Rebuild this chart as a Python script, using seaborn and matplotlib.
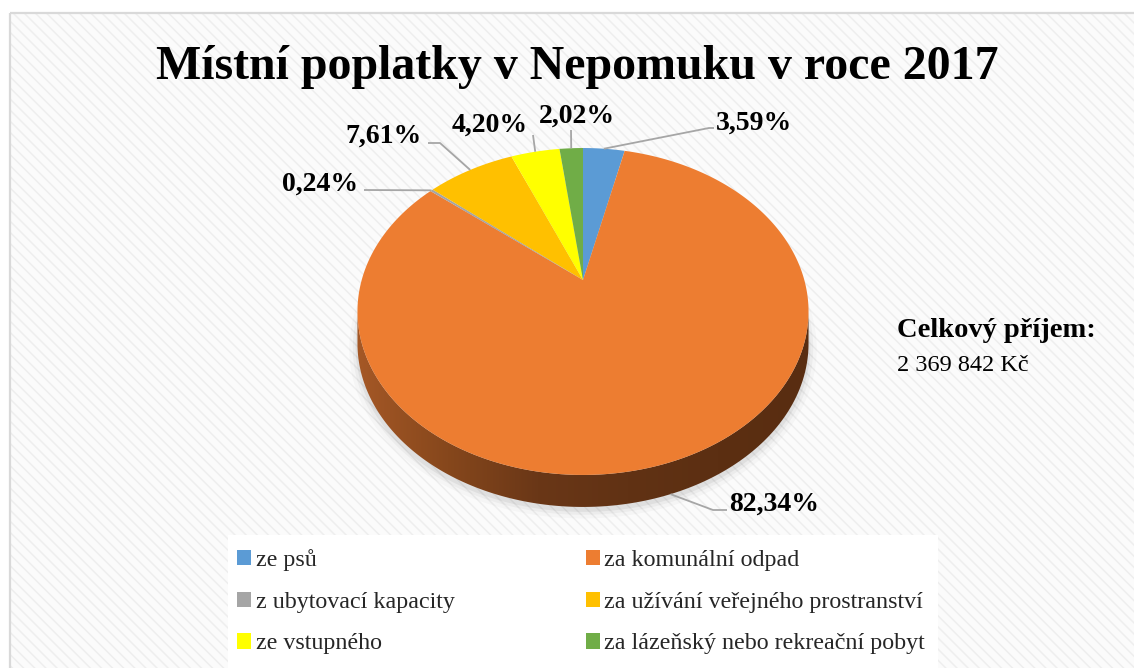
import numpy as np
import matplotlib
matplotlib.use("Agg")
import matplotlib.pyplot as plt
import matplotlib.transforms as mtransforms
from matplotlib.path import Path
from matplotlib.patches import Rectangle, Polygon
from matplotlib.colors import LinearSegmentedColormap
import seaborn as sns

# ---------------- data ----------------
categories = ["ze psů", "za komunální odpad", "z ubytovací kapacity",
              "za užívání veřejného prostranství", "ze vstupného",
              "za lázeňský nebo rekreační pobyt"]
shares = [3.59, 82.34, 0.24, 7.61, 4.20, 2.02]
slice_colors = ["#5B9BD5", "#ED7D31", "#A5A5A5", "#FFC000", "#FFFF00", "#70AD47"]
title_text = "Místní poplatky v Nepomuku v roce 2017"
total_caption = "Celkový příjem:"
total_value = "2 369 842 Kč"

# ---------------- style ----------------
sns.set_theme(style="white")
SERIF = ["Liberation Serif", "DejaVu Serif"]
plt.rcParams["font.family"] = SERIF
plt.rcParams["hatch.linewidth"] = 1.1
palette = sns.color_palette(slice_colors)

W, H = 1134, 668
fig = plt.figure(figsize=(W / 100, H / 100), dpi=100)
ax = fig.add_axes([0, 0, 1, 1])


class Persp(mtransforms.Transform):
    """Perspective (homography) view of a tilted unit disk, output in pixels."""
    input_dims = 2
    output_dims = 2
    is_separable = False
    has_inverse = False

    def __init__(self, cx, cy, a, b, k, dy=0.0):
        super().__init__()
        self.cx, self.cy, self.a, self.b, self.k, self.dy = cx, cy, a, b, k, dy

    def transform_non_affine(self, values):
        v = np.asarray(values, float).reshape(-1, 2)
        w = 1.0 + self.k * v[:, 1]
        return np.column_stack([self.cx + self.a * v[:, 0] / w,
                                self.cy - self.b * v[:, 1] / w + self.dy])

    def transform_path_non_affine(self, path):
        pts = []
        tt = np.linspace(0, 1, 40)
        for seg, code in path.iter_bezier(simplify=False):
            pts.append(seg(tt))
        pts = np.concatenate(pts)
        return Path(self.transform_non_affine(pts))


CX, CY, A, B, K, DEPTH = 583.0, 280.0, 221.3, 157.4, 0.1926, 32.0
top = Persp(CX, CY, A, B, K)
bottom = Persp(CX, CY, A, B, K, dy=DEPTH)

# ---------------- pie (top face) ----------------
wedges, _ = ax.pie(shares, colors=palette, startangle=90, counterclock=False,
                   radius=1.0, center=(0, 0), wedgeprops=dict(linewidth=0))
for w in wedges:
    w.set_transform(top + ax.transData)
    w.set_zorder(4)

ax.set_xlim(0, W)
ax.set_ylim(H, 0)
ax.set_aspect("auto")
ax.axis("off")

# ---------------- background ----------------
ax.add_patch(Rectangle((0, 0), W, H, facecolor="white", lw=0, zorder=0))
ax.add_patch(Rectangle((10, 13), W + 40, H + 40, facecolor="#fbfbfb",
                       edgecolor="#eeeeee", hatch="\\\\\\", lw=0, zorder=0.2))
ax.add_patch(Rectangle((10, 13), W + 40, H + 40, fill=False,
                       edgecolor="#d9d9d9", lw=1.6, zorder=0.3))
ax.add_patch(Rectangle((228, 535), 710, 160, facecolor="white", lw=0, zorder=0.4))

# ---------------- 3D side + shadow ----------------
a0 = np.arcsin(K)
t = np.linspace(np.pi + a0, 2 * np.pi - a0, 300)
ring = np.column_stack([np.cos(t), np.sin(t)])
side_pts = np.vstack([top.transform(ring), bottom.transform(ring)[::-1]])

tt = np.linspace(0, 2 * np.pi, 300)
circ = np.column_stack([np.cos(tt), np.sin(tt)])
for s, al in [(1.035, 0.025), (1.02, 0.035), (1.008, 0.05)]:
    sh = bottom.transform(circ * s) + np.array([0, 3])
    ax.add_patch(Polygon(sh, closed=True, facecolor="black", alpha=al, lw=0, zorder=1))

side_patch = Polygon(side_pts, closed=True, facecolor="none", lw=0, zorder=2)
ax.add_patch(side_patch)
x0, x1 = side_pts[:, 0].min(), side_pts[:, 0].max()
y0, y1 = side_pts[:, 1].min(), side_pts[:, 1].max()
side_cmap = LinearSegmentedColormap.from_list(
    "side", ["#a55826", "#86471c", "#6a3717", "#613214", "#5c2f12", "#592d11"])
grad = np.linspace(0, 1, 256).reshape(1, -1)
im = ax.imshow(grad, extent=(x0, x1, y1, y0), cmap=side_cmap, aspect="auto",
               zorder=2, interpolation="bilinear")
im.set_clip_path(side_patch)
ax.set_xlim(0, W)
ax.set_ylim(H, 0)

# ---------------- data labels with leader lines ----------------
def fmt(v):
    return f"{v:.2f}".replace(".", ",") + "%"

# layout of each label: (x, baseline y, ha, leader points after anchor)
label_layout = [
    (716, 130, "left", [(709, 128), (714, 128)]),
    (729, 511, "left", [(713, 510), (727, 510)]),
    (358, 191, "right", [(364, 190)]),
    (422, 143, "right", [(440, 143), (428, 143)]),
    (490, 132, "center", [(533, 135)]),
    (577, 123, "center", [(571, 130)]),
]
lead_col = "#a6a6a6"
for i, (w, val) in enumerate(zip(wedges, shares)):
    mid = np.deg2rad(0.5 * (w.theta1 + w.theta2))
    p = np.array([[np.cos(mid), np.sin(mid)]])
    anchor = (bottom if np.sin(mid) < -0.3 else top).transform(p)[0]
    lx, ly, ha, pts = label_layout[i]
    xs = [anchor[0]] + [q[0] for q in pts]
    ys = [anchor[1]] + [q[1] for q in pts]
    ax.plot(xs, ys, color=lead_col, lw=1.3, zorder=5, solid_capstyle="butt")
    ax.text(lx, ly, fmt(val), ha=ha, va="baseline", fontsize=20,
            fontweight="bold", color="black", zorder=6)

# ---------------- titles ----------------
ax.text(577, 79, title_text, ha="center", va="baseline", fontsize=34.5,
        fontweight="bold", color="black", zorder=6)
ax.text(897, 337, total_caption, ha="left", va="baseline", fontsize=20.5,
        fontweight="bold", color="black", zorder=6)
ax.text(897, 371, total_value, ha="left", va="baseline", fontsize=17.5,
        color="black", zorder=6)

# ---------------- legend ----------------
order = [0, 2, 4, 1, 3, 5]
leg = ax.legend([wedges[i] for i in order], [categories[i] for i in order],
                ncol=2, loc="upper left", bbox_to_anchor=(237, 549),
                bbox_transform=ax.transData, frameon=False,
                prop={"family": SERIF, "size": 17.3},
                handlelength=0.58, handleheight=0.6, handletextpad=0.2,
                columnspacing=5.45, labelspacing=0.86, borderpad=0,
                borderaxespad=0)
leg.set_zorder(7)

fig.savefig("out.png", dpi=100)
